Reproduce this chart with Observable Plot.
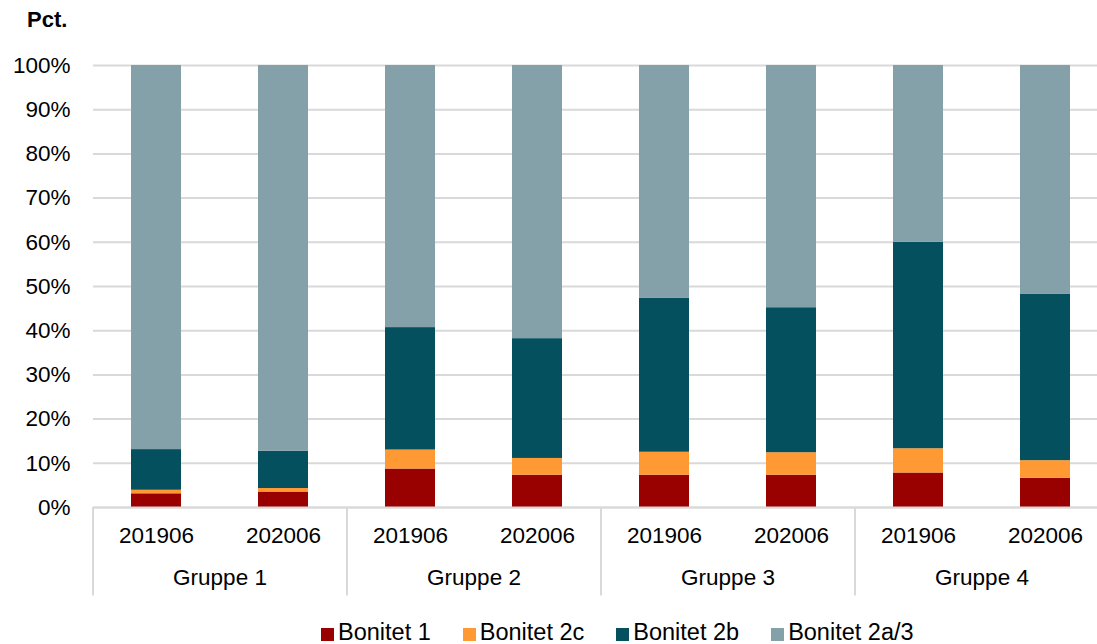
<!DOCTYPE html>
<html>
<head>
<meta charset="utf-8">
<script src="https://cdn.jsdelivr.net/npm/d3@7"></script>
<script src="https://cdn.jsdelivr.net/npm/@observablehq/plot@0.6"></script>
<style>
  html, body { margin: 0; padding: 0; background: #fff; overflow: hidden; }
  body { width: 1097px; height: 644px; position: relative; font-family: "Liberation Sans", Arial, sans-serif; }
  #ylabel { position: absolute; left: 27px; top: 7px; font-size: 22px; line-height: 26px; font-weight: bold; color: #000; z-index: 2; }
  #chart { position: absolute; left: 0; top: 0; width: 1109px; z-index: 1; }
  #chart svg { max-width: none !important; }
  #legend { position: absolute; left: 321px; top: 619px; display: flex; gap: 32px; font-size: 23.5px; line-height: 26px; color: #000; white-space: nowrap; z-index: 2; }
  #legend .item { display: flex; align-items: center; }
  #legend .sw { width: 13px; height: 13px; margin-right: 4px; display: inline-block; position: relative; top: 2px; }
</style>
</head>
<body>
<div id="chart"></div>
<div id="ylabel">Pct.</div>
<div id="legend"></div>
<script>
const groups = ["Gruppe 1", "Gruppe 2", "Gruppe 3", "Gruppe 4"];
const periods = ["201906", "202006"];
const series = ["Bonitet 1", "Bonitet 2c", "Bonitet 2b", "Bonitet 2a/3"];
const colors = ["#990000", "#FF9933", "#04505F", "#84A1AA"];
// values per bar, order: G1-201906, G1-202006, G2-201906, ...
const bonitet1  = [3.1, 3.5, 8.7, 7.3, 7.3, 7.3, 7.8, 6.6];
const bonitet2c = [0.8, 0.8, 4.3, 3.8, 5.2, 5.1, 5.5, 4.0];
const bonitet2b = [9.2, 8.4, 27.7, 27.1, 34.8, 32.8, 46.7, 37.6];
const bonitet2a3 = [86.9, 87.3, 59.3, 61.8, 52.7, 54.8, 40.0, 51.8];
const yTicks = [0, 10, 20, 30, 40, 50, 60, 70, 80, 90, 100];

const seriesValues = [bonitet1, bonitet2c, bonitet2b, bonitet2a3];
const keys = [];
groups.forEach(g => periods.forEach(p => keys.push(g + "|" + p)));
const data = [];
series.forEach((s, si) => keys.forEach((k, ki) => data.push({key: k, series: s, value: seriesValues[si][ki]})));

const W = 1109, mL = 93, mR = 0;
const step = (W - mL - mR) / keys.length;
const firstKeys = groups.map(g => g + "|" + periods[0]);
const lastKey = keys[keys.length - 1];

const plot = Plot.plot({
  width: W,
  height: 600,
  marginLeft: mL,
  marginRight: mR,
  marginTop: 65,
  marginBottom: 93,
  style: {fontFamily: "'Liberation Sans', Arial, sans-serif", fontSize: "22.5px", color: "#000", background: "transparent", maxWidth: "none"},
  x: {domain: keys, paddingInner: 0.606, paddingOuter: 0.303, label: null},
  y: {domain: [0, 100], label: null},
  color: {domain: series, range: colors},
  marks: [
    Plot.gridY(yTicks, {stroke: "#D9D9D9", strokeOpacity: 1, strokeWidth: 2}),
    Plot.barY(data, {x: "key", y: "value", fill: "series", order: series}),
    Plot.ruleY([0], {stroke: "#D9D9D9", strokeWidth: 2}),
    Plot.ruleX(firstKeys, {x: d => d, y1: 0, y2: -20, dx: -step / 2, stroke: "#D9D9D9", strokeWidth: 2}),
    Plot.ruleX([lastKey], {x: d => d, y1: 0, y2: -20, dx: step / 2, stroke: "#D9D9D9", strokeWidth: 2}),
    Plot.text(firstKeys, {x: d => d, y: -16, dx: step / 2, text: d => d.split("|")[0], fontSize: 22.5, fill: "#000"}),
    Plot.axisY(yTicks, {tickSize: 0, tickPadding: 23, tickFormat: d => d + "%", fontSize: 22.5, label: null}),
    Plot.axisX({tickSize: 0, tickPadding: 20, tickFormat: d => d.split("|")[1], fontSize: 22.5, label: null})
  ]
});
plot.style.maxWidth = "none";
document.getElementById("chart").appendChild(plot);

const legend = document.getElementById("legend");
series.forEach((s, i) => {
  const item = document.createElement("div");
  item.className = "item";
  const sw = document.createElement("span");
  sw.className = "sw";
  sw.style.background = colors[i];
  const t = document.createElement("span");
  t.textContent = s;
  item.appendChild(sw);
  item.appendChild(t);
  legend.appendChild(item);
});
</script>
</body>
</html>
